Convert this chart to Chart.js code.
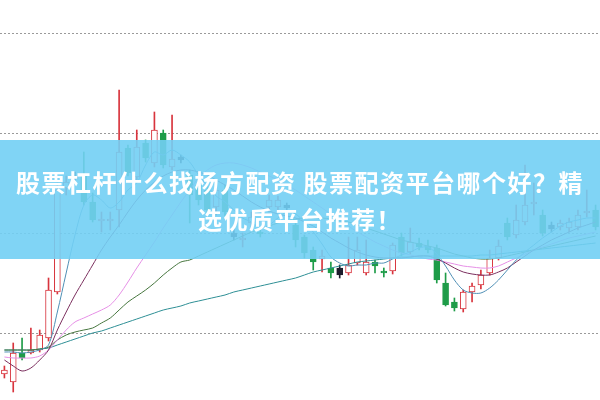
<!DOCTYPE html>
<html>
<head>
<meta charset="utf-8">
<script src="https://cdn.jsdelivr.net/npm/chart.js@4"></script>
<style>
  html, body { margin: 0; padding: 0; background: #fff; }
  #wrap { position: relative; width: 600px; height: 400px; overflow: hidden; }
  #banner {
    position: absolute; left: 0; top: 140px; width: 600px; height: 119px;
    background: rgba(114, 207, 244, 0.9);
    display: flex; align-items: center; justify-content: center;
    color: #fff; font-family: "Noto Sans CJK SC", sans-serif; font-weight: 700;
    font-size: 24px; line-height: 37px; letter-spacing: 1.5px;
    text-align: center; white-space: nowrap;
  }
</style>
</head>
<body>
<div id="wrap">
  <canvas id="kline" width="600" height="400"></canvas>
  <div id="banner"><div>股票杠杆什么找杨方配资 股票配资平台哪个好？精<br>选优质平台推荐！</div></div>
</div>
<script>
// daily candles
const opens  = [5.59,5.51,5.80,5.80,5.83,5.95,6.41,7.45,7.57,7.58,7.31,7.12,7.12,7.23,7.85,7.56,7.90,7.70,8.00,7.66,
                7.76,7.58,7.48,7.43,7.26,7.43,7.00,6.93,7.10,7.01,7.26,7.26,7.28,7.08,6.96,6.83,6.74,6.65,6.65,6.60,
                6.70,6.60,6.71,6.62,6.62,6.96,6.81,6.90,6.87,6.85,6.50,6.31,6.24,6.41,6.48,6.60,6.75,7.10,6.98,7.11,
                7.29,7.18,7.08,7.06,7.05,7.06,7.20,7.23];
const highs  = [5.67,5.90,5.95,6.05,6.03,6.55,7.50,7.57,7.61,7.81,7.40,7.21,7.21,8.43,7.88,8.03,7.93,8.21,8.03,8.18,
                7.78,7.63,7.53,7.48,7.48,7.48,7.05,7.00,7.21,7.03,7.38,7.37,7.30,7.13,6.98,6.86,6.83,6.71,6.68,6.96,
                6.96,6.93,6.73,6.65,6.90,7.00,7.05,6.95,6.93,6.88,6.60,6.35,6.43,6.50,6.63,6.83,6.93,7.15,7.28,7.68,
                7.50,7.23,7.11,7.13,7.15,7.23,7.43,7.28];
const lows   = [5.55,5.41,5.73,5.79,5.81,5.92,6.39,7.38,7.51,7.28,7.11,7.01,7.03,7.06,7.57,7.51,7.71,7.66,7.65,7.63,
                7.70,7.10,7.28,7.20,7.18,7.17,6.93,6.86,7.05,6.96,7.21,7.23,7.21,6.86,6.75,6.63,6.61,6.55,6.55,6.58,
                6.68,6.58,6.60,6.56,6.59,6.77,6.79,6.83,6.80,6.50,6.27,6.22,6.21,6.31,6.44,6.58,6.73,6.93,6.95,7.08,
                7.18,6.97,7.01,7.03,7.01,7.03,7.16,7.03];
const closes = [5.63,5.80,5.75,5.83,5.98,6.43,7.43,7.51,7.54,7.31,7.13,7.14,7.14,7.81,7.60,7.86,7.75,8.03,7.68,7.74,
                7.73,7.38,7.33,7.23,7.43,7.21,6.96,6.95,7.16,6.99,7.33,7.33,7.25,6.93,6.80,6.71,6.77,6.60,6.58,6.68,
                6.83,6.71,6.67,6.60,6.88,6.80,6.91,6.86,6.83,6.53,6.28,6.25,6.41,6.47,6.58,6.75,6.87,6.96,7.13,7.28,
                7.31,7.00,7.04,7.10,7.11,7.18,7.22,7.06];
// days drawn with a dark body
const darkDays = [8, 20, 26, 32, 38, 62];

// moving average lines
const ma5  = [5.81,5.81,5.80,5.81,5.83,5.88,6.21,6.60,6.98,7.28,7.38,7.33,7.25,7.31,7.43,7.50,7.68,7.81,7.78,7.83,
              7.78,7.71,7.58,7.47,7.37,7.31,7.23,7.15,7.11,7.05,7.08,7.15,7.21,7.19,7.11,7.01,6.89,6.76,6.70,6.67,
              6.68,6.68,6.70,6.70,6.74,6.78,6.81,6.85,6.86,6.79,6.67,6.53,6.43,6.40,6.40,6.45,6.53,6.63,6.73,6.81,
              6.88,6.95,7.01,7.07,7.11,7.13,7.15,7.15];
const ma10 = [5.73,5.67,5.62,5.65,5.73,5.83,6.03,6.21,6.38,6.53,6.68,6.83,6.96,7.08,7.21,7.33,7.43,7.51,7.57,7.61,
              7.63,7.63,7.61,7.58,7.53,7.48,7.43,7.37,7.31,7.26,7.22,7.19,7.17,7.15,7.11,7.07,7.01,6.95,6.90,6.85,
              6.81,6.78,6.76,6.75,6.75,6.75,6.76,6.77,6.77,6.74,6.70,6.65,6.61,6.59,6.58,6.58,6.61,6.65,6.71,6.77,
              6.83,6.88,6.93,6.97,7.01,7.05,7.08,7.11];
const ma20 = [5.76,5.75,5.75,5.75,5.77,5.83,5.93,6.03,6.11,6.15,6.19,6.23,6.28,6.38,6.51,6.65,6.78,6.91,7.05,7.18,
              7.31,7.43,7.55,7.63,7.68,7.70,7.70,7.68,7.65,7.61,7.57,7.53,7.48,7.43,7.37,7.31,7.25,7.19,7.13,7.07,
              7.01,6.96,6.91,6.87,6.83,6.80,6.78,6.76,6.74,6.73,6.71,6.69,6.67,6.66,6.65,6.65,6.67,6.71,6.75,6.79,
              6.83,6.86,6.89,6.92,6.95,6.97,6.99,7.01];
const ma30 = [5.83,5.83,5.83,5.83,5.84,5.86,5.93,5.98,6.01,6.03,6.05,6.10,6.15,6.23,6.31,6.37,6.43,6.50,6.58,6.65,
              6.71,6.73,6.77,6.81,6.85,6.89,6.93,6.97,7.01,7.04,7.07,7.10,7.12,7.14,7.15,7.15,7.15,7.14,7.12,7.11,
              7.08,7.05,7.02,6.99,6.96,6.93,6.91,6.89,6.87,6.85,6.82,6.79,6.77,6.75,6.74,6.74,6.75,6.77,6.79,6.81,
              6.83,6.85,6.87,6.89,6.91,6.93,6.95,6.97];
const ma60 = [5.83,5.83,5.83,5.83,5.84,5.85,5.88,5.91,5.94,5.97,6.00,6.02,6.05,6.08,6.11,6.14,6.17,6.20,6.23,6.25,
              6.27,6.30,6.32,6.34,6.36,6.38,6.41,6.43,6.45,6.47,6.49,6.51,6.53,6.55,6.58,6.61,6.63,6.65,6.67,6.69,
              6.71,6.72,6.73,6.74,6.75,6.76,6.76,6.77,6.77,6.77,6.77,6.77,6.77,6.77,6.78,6.78,6.79,6.80,6.81,6.82,
              6.83,6.84,6.85,6.86,6.87,6.88,6.89,6.90];

// price levels with a dotted guide line
const gridLevels = [6, 7, 8, 9];

const UP = '#d8343d';
const DOWN = '#1e9c48';
const DARK = '#1c1c2c';

const labels = closes.map((_, i) => String(i + 1));

function candleColor(i) {
    if (darkDays.includes(i)) return DARK;
    return closes[i] >= opens[i] ? UP : DOWN;
}

const wickColors = labels.map((_, i) => candleColor(i));
const bodyFill = labels.map((_, i) => {
    const c = candleColor(i);
    return c === UP ? '#ffffff' : c;
});

function maLine(data, color) {
    return {
        type: 'line',
        data,
        borderColor: color,
        borderWidth: 1,
        pointRadius: 0,
        tension: 0.3,
        order: 1
    };
}

new Chart(document.getElementById('kline').getContext('2d'), {
    type: 'bar',
    data: {
        labels,
        datasets: [
            {
                // wicks
                data: labels.map((_, i) => [lows[i], highs[i]]),
                backgroundColor: wickColors,
                borderWidth: 0,
                barThickness: 1,
                grouped: false,
                order: 3
            },
            {
                // bodies
                data: labels.map((_, i) => [opens[i], closes[i]]),
                backgroundColor: bodyFill,
                borderColor: wickColors,
                borderWidth: 1,
                borderSkipped: false,
                barThickness: 6,
                grouped: false,
                order: 2
            },
            maLine(ma5, '#4f8fb5'),
            maLine(ma10, '#7b2f5e'),
            maLine(ma20, '#e68fe6'),
            maLine(ma30, '#46763e'),
            maLine(ma60, '#2e8f95')
        ]
    },
    options: {
        responsive: false,
        animation: false,
        layout: { padding: 0 },
        plugins: {
            legend: { display: false },
            tooltip: { enabled: false }
        },
        scales: {
            x: { display: false },
            y: {
                min: 5.33,
                max: 9.33,
                afterBuildTicks: (scale) => {
                    scale.ticks = gridLevels.map(v => ({ value: v }));
                },
                ticks: { display: false },
                grid: { color: '#9a9a9a', lineWidth: 1, drawTicks: false },
                border: { display: false, dash: [2, 2] }
            }
        }
    }
});
</script>
</body>
</html>
